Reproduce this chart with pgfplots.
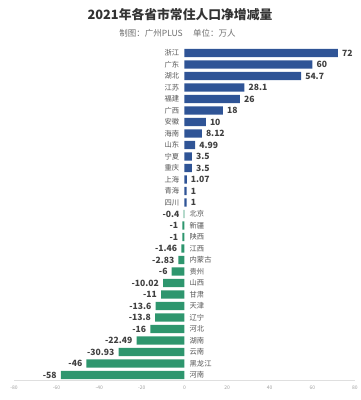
\documentclass[border=0pt]{standalone}
\usepackage{pgfplots}
\pgfplotsset{compat=1.18}
\usepackage{fontspec}
\setmainfont{Noto Sans CJK SC}
\definecolor{barblue}{RGB}{47,84,150}
\definecolor{bargreen}{RGB}{46,150,110}
\definecolor{titlegray}{RGB}{51,51,51}
\definecolor{subgray}{RGB}{110,110,110}
\definecolor{valgray}{RGB}{64,64,64}
\definecolor{catgray}{RGB}{85,85,85}
\begin{document}
\begin{tikzpicture}
\useasboundingbox (-14pt,-19.25pt) rectangle (347pt,380.75pt);
\begin{axis}[
  at={(0,0)}, anchor=south west,
  scale only axis, width=341pt, height=333.5pt,
  xmin=-80, xmax=80, ymin=-0.5, ymax=28.5,
  axis x line=bottom, axis y line=none,
  x axis line style={-, draw=gray!25, line width=0.6pt},
  xtick={-80,-60,...,80}, major tick length=0pt,
  /pgf/number format/assume math mode=true,
  xticklabel style={font=\fontsize{5}{6}\selectfont, text=gray!75, yshift=-1.5pt},
  clip=false,
]
\addplot[xbar, bar width=0.72, bar shift=0pt, fill=barblue, draw=none,
  nodes near coords, point meta=explicit symbolic,
  every node near coord/.append style={anchor=west, inner sep=0pt, xshift=4pt,
    font=\fontsize{8.6}{10}\selectfont\bfseries, text=valgray}]
coordinates {
(72,28) [72]
(60,27) [60]
(54.7,26) [54.7]
(28.1,25) [28.1]
(26,24) [26]
(18,23) [18]
(10,22) [10]
(8.12,21) [8.12]
(4.99,20) [4.99]
(3.5,19) [3.5]
(3.5,18) [3.5]
(1.07,17) [1.07]
(1,16) [1]
(1,15) [1]
};
\addplot[xbar, bar width=0.72, bar shift=0pt, fill=bargreen, draw=none,
  nodes near coords, point meta=explicit symbolic,
  every node near coord/.append style={anchor=east, inner sep=0pt, xshift=-4pt,
    font=\fontsize{8.6}{10}\selectfont\bfseries, text=valgray}]
coordinates {
(-0.4,14) [-0.4]
(-1,13) [-1]
(-1,12) [-1]
(-1.46,11) [-1.46]
(-2.83,10) [-2.83]
(-6,9) [-6]
(-10.02,8) [-10.02]
(-11,7) [-11]
(-13.6,6) [-13.6]
(-13.8,5) [-13.8]
(-16,4) [-16]
(-22.49,3) [-22.49]
(-30.93,2) [-30.93]
(-46,1) [-46]
(-58,0) [-58]
};
\addplot[draw=none, mark=none, nodes near coords, point meta=explicit symbolic,
  every node near coord/.append style={anchor=east, inner sep=0pt, xshift=-5pt,
    font=\fontsize{7.3}{8}\selectfont, text=catgray}]
coordinates {
(0,28) [浙江]
(0,27) [广东]
(0,26) [湖北]
(0,25) [江苏]
(0,24) [福建]
(0,23) [广西]
(0,22) [安徽]
(0,21) [海南]
(0,20) [山东]
(0,19) [宁夏]
(0,18) [重庆]
(0,17) [上海]
(0,16) [青海]
(0,15) [四川]
};
\addplot[draw=none, mark=none, nodes near coords, point meta=explicit symbolic,
  every node near coord/.append style={anchor=west, inner sep=0pt, xshift=5pt,
    font=\fontsize{7.3}{8}\selectfont, text=catgray}]
coordinates {
(0,14) [北京]
(0,13) [新疆]
(0,12) [陕西]
(0,11) [江西]
(0,10) [内蒙古]
(0,9) [贵州]
(0,8) [山西]
(0,7) [甘肃]
(0,6) [天津]
(0,5) [辽宁]
(0,4) [河北]
(0,3) [湖南]
(0,2) [云南]
(0,1) [黑龙江]
(0,0) [河南]
};
\end{axis}
\node[font=\fontsize{12.8}{14}\selectfont\bfseries, text=titlegray] at (166pt,365.75pt) {2021年各省市常住人口净增减量};
\node[font=\fontsize{8.5}{10}\selectfont, text=subgray] at (163.5pt,347.75pt) {制图：广州PLUS\hspace{1.2em}单位：万人};
\end{tikzpicture}
\end{document}
